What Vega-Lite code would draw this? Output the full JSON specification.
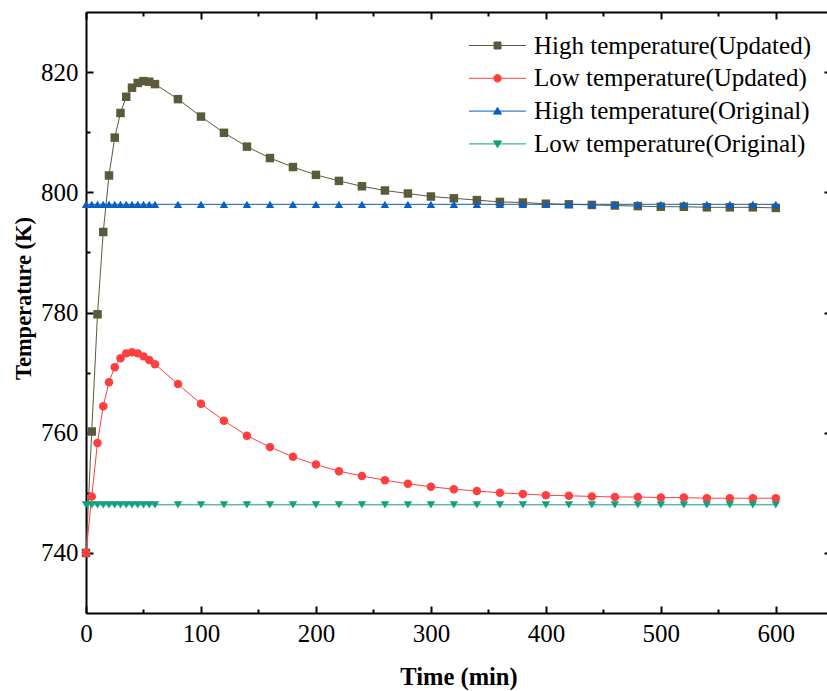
{
  "$schema": "https://vega.github.io/schema/vega-lite/v6.json",
  "width": 745,
  "height": 601,
  "autosize": {"type": "none"},
  "padding": {"left": 86, "top": 12, "right": 0, "bottom": 78},
  "background": "white",
  "config": {
    "view": {"stroke": null},
    "style": {"guide-label": {"font": "Liberation Serif"}, "guide-title": {"font": "Liberation Serif"}},
    "axis": {"grid": false, "labelFlush": false, "domainColor": "black", "domainWidth": 2, "tickColor": "black", "tickWidth": 2, "labelFont": "Liberation Serif", "labelFontSize": 25, "labelColor": "black", "titleFont": "Liberation Serif", "titleFontWeight": "bold", "titleColor": "black"},
    "legend": {"orient": "none", "legendX": 399, "legendY": 21, "labelFont": "Liberation Serif", "labelFontSize": 25, "labelColor": "black", "symbolSize": 100, "symbolStrokeWidth": 1, "labelOffset": 24, "rowPadding": 6.8, "padding": 0, "labelLimit": 500}
  },
  "datasets": {
    "temps": [
      {"t":0,"v":740,"s":"High temperature(Updated)"},{"t":5,"v":760.2,"s":"High temperature(Updated)"},{"t":10,"v":779.7,"s":"High temperature(Updated)"},{"t":15,"v":793.4,"s":"High temperature(Updated)"},{"t":20,"v":802.8,"s":"High temperature(Updated)"},{"t":25,"v":809.1,"s":"High temperature(Updated)"},{"t":30,"v":813.2,"s":"High temperature(Updated)"},{"t":35,"v":815.9,"s":"High temperature(Updated)"},{"t":40,"v":817.4,"s":"High temperature(Updated)"},{"t":45,"v":818.2,"s":"High temperature(Updated)"},{"t":50,"v":818.5,"s":"High temperature(Updated)"},{"t":55,"v":818.4,"s":"High temperature(Updated)"},{"t":60,"v":818.0,"s":"High temperature(Updated)"},{"t":80,"v":815.5,"s":"High temperature(Updated)"},{"t":100,"v":812.6,"s":"High temperature(Updated)"},{"t":120,"v":809.9,"s":"High temperature(Updated)"},{"t":140,"v":807.6,"s":"High temperature(Updated)"},{"t":160,"v":805.7,"s":"High temperature(Updated)"},{"t":180,"v":804.2,"s":"High temperature(Updated)"},{"t":200,"v":802.9,"s":"High temperature(Updated)"},{"t":220,"v":801.9,"s":"High temperature(Updated)"},{"t":240,"v":801.0,"s":"High temperature(Updated)"},{"t":260,"v":800.3,"s":"High temperature(Updated)"},{"t":280,"v":799.8,"s":"High temperature(Updated)"},{"t":300,"v":799.3,"s":"High temperature(Updated)"},{"t":320,"v":799.0,"s":"High temperature(Updated)"},{"t":340,"v":798.7,"s":"High temperature(Updated)"},{"t":360,"v":798.4,"s":"High temperature(Updated)"},{"t":380,"v":798.3,"s":"High temperature(Updated)"},{"t":400,"v":798.1,"s":"High temperature(Updated)"},{"t":420,"v":798.0,"s":"High temperature(Updated)"},{"t":440,"v":797.9,"s":"High temperature(Updated)"},{"t":460,"v":797.8,"s":"High temperature(Updated)"},{"t":480,"v":797.7,"s":"High temperature(Updated)"},{"t":500,"v":797.6,"s":"High temperature(Updated)"},{"t":520,"v":797.6,"s":"High temperature(Updated)"},{"t":540,"v":797.5,"s":"High temperature(Updated)"},{"t":560,"v":797.5,"s":"High temperature(Updated)"},{"t":580,"v":797.5,"s":"High temperature(Updated)"},{"t":600,"v":797.4,"s":"High temperature(Updated)"},
      {"t":0,"v":740,"s":"Low temperature(Updated)"},{"t":5,"v":749.4,"s":"Low temperature(Updated)"},{"t":10,"v":758.3,"s":"Low temperature(Updated)"},{"t":15,"v":764.4,"s":"Low temperature(Updated)"},{"t":20,"v":768.4,"s":"Low temperature(Updated)"},{"t":25,"v":770.9,"s":"Low temperature(Updated)"},{"t":30,"v":772.4,"s":"Low temperature(Updated)"},{"t":35,"v":773.2,"s":"Low temperature(Updated)"},{"t":40,"v":773.4,"s":"Low temperature(Updated)"},{"t":45,"v":773.2,"s":"Low temperature(Updated)"},{"t":50,"v":772.7,"s":"Low temperature(Updated)"},{"t":55,"v":772.1,"s":"Low temperature(Updated)"},{"t":60,"v":771.4,"s":"Low temperature(Updated)"},{"t":80,"v":768.1,"s":"Low temperature(Updated)"},{"t":100,"v":764.8,"s":"Low temperature(Updated)"},{"t":120,"v":762.0,"s":"Low temperature(Updated)"},{"t":140,"v":759.5,"s":"Low temperature(Updated)"},{"t":160,"v":757.6,"s":"Low temperature(Updated)"},{"t":180,"v":756.0,"s":"Low temperature(Updated)"},{"t":200,"v":754.7,"s":"Low temperature(Updated)"},{"t":220,"v":753.6,"s":"Low temperature(Updated)"},{"t":240,"v":752.8,"s":"Low temperature(Updated)"},{"t":260,"v":752.1,"s":"Low temperature(Updated)"},{"t":280,"v":751.5,"s":"Low temperature(Updated)"},{"t":300,"v":751.0,"s":"Low temperature(Updated)"},{"t":320,"v":750.6,"s":"Low temperature(Updated)"},{"t":340,"v":750.3,"s":"Low temperature(Updated)"},{"t":360,"v":750.0,"s":"Low temperature(Updated)"},{"t":380,"v":749.8,"s":"Low temperature(Updated)"},{"t":400,"v":749.6,"s":"Low temperature(Updated)"},{"t":420,"v":749.5,"s":"Low temperature(Updated)"},{"t":440,"v":749.4,"s":"Low temperature(Updated)"},{"t":460,"v":749.3,"s":"Low temperature(Updated)"},{"t":480,"v":749.3,"s":"Low temperature(Updated)"},{"t":500,"v":749.2,"s":"Low temperature(Updated)"},{"t":520,"v":749.2,"s":"Low temperature(Updated)"},{"t":540,"v":749.1,"s":"Low temperature(Updated)"},{"t":560,"v":749.1,"s":"Low temperature(Updated)"},{"t":580,"v":749.1,"s":"Low temperature(Updated)"},{"t":600,"v":749.1,"s":"Low temperature(Updated)"},
      {"t":0,"v":798,"s":"High temperature(Original)"},{"t":5,"v":798,"s":"High temperature(Original)"},{"t":10,"v":798,"s":"High temperature(Original)"},{"t":15,"v":798,"s":"High temperature(Original)"},{"t":20,"v":798,"s":"High temperature(Original)"},{"t":25,"v":798,"s":"High temperature(Original)"},{"t":30,"v":798,"s":"High temperature(Original)"},{"t":35,"v":798,"s":"High temperature(Original)"},{"t":40,"v":798,"s":"High temperature(Original)"},{"t":45,"v":798,"s":"High temperature(Original)"},{"t":50,"v":798,"s":"High temperature(Original)"},{"t":55,"v":798,"s":"High temperature(Original)"},{"t":60,"v":798,"s":"High temperature(Original)"},{"t":80,"v":798,"s":"High temperature(Original)"},{"t":100,"v":798,"s":"High temperature(Original)"},{"t":120,"v":798,"s":"High temperature(Original)"},{"t":140,"v":798,"s":"High temperature(Original)"},{"t":160,"v":798,"s":"High temperature(Original)"},{"t":180,"v":798,"s":"High temperature(Original)"},{"t":200,"v":798,"s":"High temperature(Original)"},{"t":220,"v":798,"s":"High temperature(Original)"},{"t":240,"v":798,"s":"High temperature(Original)"},{"t":260,"v":798,"s":"High temperature(Original)"},{"t":280,"v":798,"s":"High temperature(Original)"},{"t":300,"v":798,"s":"High temperature(Original)"},{"t":320,"v":798,"s":"High temperature(Original)"},{"t":340,"v":798,"s":"High temperature(Original)"},{"t":360,"v":798,"s":"High temperature(Original)"},{"t":380,"v":798,"s":"High temperature(Original)"},{"t":400,"v":798,"s":"High temperature(Original)"},{"t":420,"v":798,"s":"High temperature(Original)"},{"t":440,"v":798,"s":"High temperature(Original)"},{"t":460,"v":798,"s":"High temperature(Original)"},{"t":480,"v":798,"s":"High temperature(Original)"},{"t":500,"v":798,"s":"High temperature(Original)"},{"t":520,"v":798,"s":"High temperature(Original)"},{"t":540,"v":798,"s":"High temperature(Original)"},{"t":560,"v":798,"s":"High temperature(Original)"},{"t":580,"v":798,"s":"High temperature(Original)"},{"t":600,"v":798,"s":"High temperature(Original)"},
      {"t":0,"v":748,"s":"Low temperature(Original)"},{"t":5,"v":748,"s":"Low temperature(Original)"},{"t":10,"v":748,"s":"Low temperature(Original)"},{"t":15,"v":748,"s":"Low temperature(Original)"},{"t":20,"v":748,"s":"Low temperature(Original)"},{"t":25,"v":748,"s":"Low temperature(Original)"},{"t":30,"v":748,"s":"Low temperature(Original)"},{"t":35,"v":748,"s":"Low temperature(Original)"},{"t":40,"v":748,"s":"Low temperature(Original)"},{"t":45,"v":748,"s":"Low temperature(Original)"},{"t":50,"v":748,"s":"Low temperature(Original)"},{"t":55,"v":748,"s":"Low temperature(Original)"},{"t":60,"v":748,"s":"Low temperature(Original)"},{"t":80,"v":748,"s":"Low temperature(Original)"},{"t":100,"v":748,"s":"Low temperature(Original)"},{"t":120,"v":748,"s":"Low temperature(Original)"},{"t":140,"v":748,"s":"Low temperature(Original)"},{"t":160,"v":748,"s":"Low temperature(Original)"},{"t":180,"v":748,"s":"Low temperature(Original)"},{"t":200,"v":748,"s":"Low temperature(Original)"},{"t":220,"v":748,"s":"Low temperature(Original)"},{"t":240,"v":748,"s":"Low temperature(Original)"},{"t":260,"v":748,"s":"Low temperature(Original)"},{"t":280,"v":748,"s":"Low temperature(Original)"},{"t":300,"v":748,"s":"Low temperature(Original)"},{"t":320,"v":748,"s":"Low temperature(Original)"},{"t":340,"v":748,"s":"Low temperature(Original)"},{"t":360,"v":748,"s":"Low temperature(Original)"},{"t":380,"v":748,"s":"Low temperature(Original)"},{"t":400,"v":748,"s":"Low temperature(Original)"},{"t":420,"v":748,"s":"Low temperature(Original)"},{"t":440,"v":748,"s":"Low temperature(Original)"},{"t":460,"v":748,"s":"Low temperature(Original)"},{"t":480,"v":748,"s":"Low temperature(Original)"},{"t":500,"v":748,"s":"Low temperature(Original)"},{"t":520,"v":748,"s":"Low temperature(Original)"},{"t":540,"v":748,"s":"Low temperature(Original)"},{"t":560,"v":748,"s":"Low temperature(Original)"},{"t":580,"v":748,"s":"Low temperature(Original)"},{"t":600,"v":748,"s":"Low temperature(Original)"}
    ]
  },
  "data": {"name": "temps"},
  "layer": [
    {
      "mark": {"type": "line", "strokeWidth": 1},
      "encoding": {
        "x": {"field": "t", "type": "quantitative", "scale": {"domain": [0, 648], "nice": false, "zero": false},
          "axis": {"orient": "bottom", "values": [0, 100, 200, 300, 400, 500, 600], "tickSize": -7, "labelPadding": 15, "labelFlush": false, "labelFont": "Liberation Serif", "labelFontSize": 25, "title": "Time (min)", "titleFont": "Liberation Serif", "titleFontSize": 24.5, "titleX": 372.5, "titleY": 64, "titleBaseline": "middle"}},
        "y": {"field": "v", "type": "quantitative", "scale": {"domain": [730, 830], "nice": false, "zero": false},
          "axis": {"orient": "left", "values": [740, 760, 780, 800, 820], "tickSize": -7, "labelPadding": 15, "labelFlush": false, "labelFont": "Liberation Serif", "labelFontSize": 25, "title": "Temperature (K)", "titleFont": "Liberation Serif", "titleFontSize": 22.5, "titleX": -63, "titleY": 286, "titleBaseline": "middle", "titleAngle": -90}},
        "color": {"field": "s", "type": "nominal",
          "scale": {"domain": ["High temperature(Updated)", "Low temperature(Updated)", "High temperature(Original)", "Low temperature(Original)"], "range": ["#5b5b3b", "#ff3f3f", "#0a5fc4", "#12a07d"]},
          "legend": null}
      }
    },
    {
      "mark": {"type": "point", "filled": true, "opacity": 1, "size": 72, "strokeWidth": 0},
      "encoding": {
        "x": {"field": "t", "type": "quantitative", "scale": {"domain": [0, 648], "nice": false, "zero": false},
          "axis": {"orient": "bottom", "values": [50, 150, 250, 350, 450, 550, 650], "tickSize": -4, "labels": false, "domain": false, "title": null}},
        "y": {"field": "v", "type": "quantitative", "scale": {"domain": [730, 830], "nice": false, "zero": false},
          "axis": {"orient": "left", "values": [750, 770, 790, 810], "tickSize": -4, "labels": false, "domain": false, "title": null}},
        "color": {"field": "s", "type": "nominal",
          "scale": {"domain": ["High temperature(Updated)", "Low temperature(Updated)", "High temperature(Original)", "Low temperature(Original)"], "range": ["#5b5b3b", "#ff3f3f", "#0a5fc4", "#12a07d"]},
          "legend": null},
        "shape": {"field": "s", "type": "nominal",
          "scale": {"domain": ["High temperature(Updated)", "Low temperature(Updated)", "High temperature(Original)", "Low temperature(Original)"], "range": ["square", "circle", "triangle-up", "triangle-down"]},
          "legend": null}
      }
    },
    {
      "transform": [{"filter": "datum.t < -1000"}],
      "mark": {"type": "point", "filled": true, "opacity": 1},
      "encoding": {
        "x": {"field": "t", "type": "quantitative", "scale": {"domain": [0, 648], "nice": false, "zero": false},
          "axis": {"orient": "top", "values": [0, 100, 200, 300, 400, 500, 600], "tickSize": -7, "labels": false, "title": null}},
        "y": {"field": "v", "type": "quantitative", "scale": {"domain": [730, 830], "nice": false, "zero": false},
          "axis": {"orient": "right", "values": [740, 760, 780, 800, 820], "tickSize": -7, "labels": false, "title": null}},
        "fill": {"field": "s", "type": "nominal",
          "scale": {"domain": ["High temperature(Updated)", "Low temperature(Updated)", "High temperature(Original)", "Low temperature(Original)"], "range": ["#5b5b3b", "#ff3f3f", "#0a5fc4", "#12a07d"]},
          "legend": {"title": null}},
        "stroke": {"field": "s", "type": "nominal",
          "scale": {"domain": ["High temperature(Updated)", "Low temperature(Updated)", "High temperature(Original)", "Low temperature(Original)"], "range": ["#5b5b3b", "#ff3f3f", "#0a5fc4", "#12a07d"]},
          "legend": {"title": null}},
        "shape": {"field": "s", "type": "nominal",
          "scale": {"domain": ["High temperature(Updated)", "Low temperature(Updated)", "High temperature(Original)", "Low temperature(Original)"],
            "range": ["M-5.7,0H5.7M-0.7,-0.7H0.7V0.7H-0.7Z", "M-5.7,0H5.7M-0.75,0A0.75,0.75 0 1,0 0.75,0A0.75,0.75 0 1,0 -0.75,0Z", "M-5.7,0H5.7M0,-0.75L0.8,0.6H-0.8Z", "M-5.7,0H5.7M0,0.75L0.8,-0.6H-0.8Z"]},
          "legend": {"title": null}}
      }
    },
    {
      "transform": [{"filter": "datum.t < -1000"}],
      "mark": {"type": "point", "opacity": 1},
      "encoding": {
        "x": {"field": "t", "type": "quantitative", "scale": {"domain": [0, 648], "nice": false, "zero": false},
          "axis": {"orient": "top", "values": [50, 150, 250, 350, 450, 550, 650], "tickSize": -4, "labels": false, "domain": false, "title": null}},
        "y": {"field": "v", "type": "quantitative", "scale": {"domain": [730, 830], "nice": false, "zero": false},
          "axis": {"orient": "right", "values": [750, 770, 790, 810], "tickSize": -4, "labels": false, "domain": false, "title": null}}
      }
    }
  ],
  "resolve": {
    "axis": {"x": "independent", "y": "independent"},
    "scale": {"shape": "independent", "fill": "independent", "stroke": "independent"}
  }
}
